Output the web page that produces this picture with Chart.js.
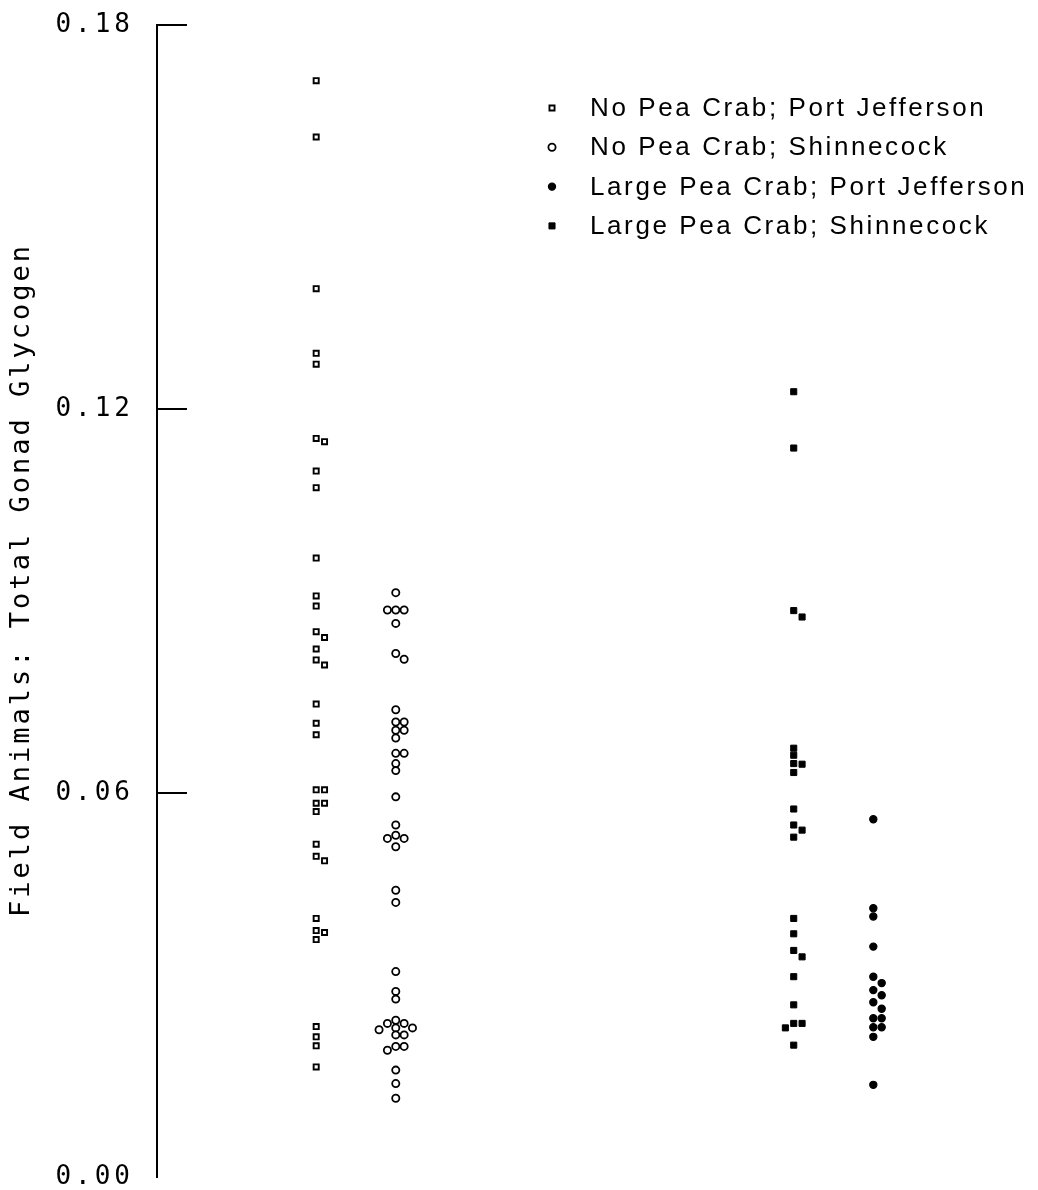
<!DOCTYPE html>
<html>
<head>
<meta charset="utf-8">
<script src="https://cdn.jsdelivr.net/npm/chart.js@4.4.1/dist/chart.umd.min.js"></script>
<style>
  html, body { margin: 0; padding: 0; background: #fff; }
  #wrap { width: 1038px; height: 1190px; }
</style>
</head>
<body>
<div id="wrap"><canvas id="c" width="1038" height="1190"></canvas></div>
<script>
// ---- Data ----
const categories = [
  'No Pea Crab; Port Jefferson',
  'No Pea Crab; Shinnecock',
  'Large Pea Crab; Port Jefferson',
  'Large Pea Crab; Shinnecock'
];
// group positions on the (hidden) x axis
const groupX = [2, 3, 9, 8];

const noCrabPortJefferson = [0.1713, 0.1625, 0.1388, 0.1287, 0.1270, 0.1154, 0.1149, 0.1103, 0.1077,
  0.0967, 0.0908, 0.0892, 0.0852, 0.0843, 0.0825, 0.0808, 0.0800, 0.0739, 0.0709, 0.0691,
  0.0605, 0.0605, 0.0584, 0.0584, 0.0571, 0.0520, 0.0501, 0.0494, 0.0404, 0.0385, 0.0382,
  0.0371, 0.0235, 0.0219, 0.0205, 0.0172];
const noCrabShinnecock = [0.0913, 0.0886, 0.0886, 0.0886, 0.0865, 0.0818, 0.0809, 0.0730, 0.0711,
  0.0711, 0.0698, 0.0698, 0.0686, 0.0662, 0.0662, 0.0646, 0.0635, 0.0594, 0.0550, 0.0534,
  0.0529, 0.0529, 0.0516, 0.0448, 0.0429, 0.0321, 0.0290, 0.0278, 0.0245, 0.0240, 0.0240,
  0.0233, 0.0233, 0.0230, 0.0222, 0.0222, 0.0204, 0.0204, 0.0198, 0.0167, 0.0146, 0.0123];
const largeCrabPortJefferson = [0.0559, 0.0420, 0.0407, 0.0360, 0.0313, 0.0303, 0.0292, 0.0284,
  0.0273, 0.0263, 0.0248, 0.0248, 0.0234, 0.0234, 0.0219, 0.0144];
const largeCrabShinnecock = [0.1227, 0.1139, 0.0885, 0.0875, 0.0670, 0.0659, 0.0646, 0.0645, 0.0632,
  0.0575, 0.0550, 0.0542, 0.0531, 0.0404, 0.0380, 0.0354, 0.0344, 0.0313, 0.0269, 0.0240,
  0.0240, 0.0233, 0.0206];

const yTicks = [0, 0.06, 0.12, 0.18];
const yTitle = 'Field Animals: Total Gonad Glycogen';

const seriesValues = [noCrabPortJefferson, noCrabShinnecock, largeCrabPortJefferson, largeCrabShinnecock];

// ---- styles ----
const styles = [
  { pointStyle: 'rect',   radius: 3.6, fill: '#ffffff', border: 1.9 },
  { pointStyle: 'circle', radius: 3.6, fill: '#ffffff', border: 1.8 },
  { pointStyle: 'circle', radius: 3.6, fill: '#000000', border: 1.2 },
  { pointStyle: 'rect',   radius: 4.3, fill: '#000000', border: 1.0 }
];

// Dodge overlapping points sideways (like the original plot does)
const yMin = 0, yMax = 0.18;
const valuePerPx = (yMax - yMin) / 1152;
const collide = 6.8 * valuePerPx;
const dodgeStep = 0.105;
function dodge(values, gx) {
  const placed = [];
  const slots = [0, 1, -1, 2, -2, 3, -3];
  return values.map(v => {
    let slot = 0;
    for (const s of slots) {
      if (!placed.some(p => p.s === s && Math.abs(p.v - v) < collide)) { slot = s; break; }
    }
    placed.push({ v, s: slot });
    return { x: gx + slot * dodgeStep, y: v };
  });
}

const datasets = seriesValues.map((vals, i) => ({
  label: categories[i],
  data: dodge(vals, groupX[i]),
  pointStyle: styles[i].pointStyle,
  pointRadius: styles[i].radius,
  pointHoverRadius: styles[i].radius,
  pointBackgroundColor: styles[i].fill,
  pointBorderColor: '#000000',
  pointBorderWidth: styles[i].border,
  showLine: false,
  clip: false
}));

function drawMarker(ctx, st, x, y) {
  ctx.save();
  ctx.fillStyle = st.fill;
  ctx.strokeStyle = '#000';
  ctx.lineWidth = st.border;
  ctx.beginPath();
  if (st.pointStyle === 'rect') {
    const h = st.radius / Math.SQRT2;
    ctx.rect(x - h, y - h, 2 * h, 2 * h);
  } else {
    ctx.arc(x, y, st.radius, 0, Math.PI * 2);
  }
  ctx.fill();
  ctx.stroke();
  ctx.restore();
}

const decorPlugin = {
  id: 'decor',
  beforeDraw(chart) {
    chart.ctx.letterSpacing = '4px';
  },
  afterDraw(chart) {
    const ctx = chart.ctx;
    const ys = chart.scales.y;
    ctx.save();
    ctx.letterSpacing = '0px';
    // inward tick marks
    ctx.strokeStyle = '#000';
    ctx.lineWidth = 2;
    yTicks.forEach(t => {
      if (t === 0) return;
      const py = ys.getPixelForValue(t);
      ctx.beginPath();
      ctx.moveTo(ys.right - 1, py);
      ctx.lineTo(ys.right + 30, py);
      ctx.stroke();
    });
    // y axis title
    ctx.save();
    ctx.translate(22, 580);
    ctx.rotate(-Math.PI / 2);
    ctx.fillStyle = '#000';
    ctx.font = '27px "DejaVu Sans Mono"';
    ctx.letterSpacing = '3px';
    ctx.textAlign = 'center';
    ctx.textBaseline = 'middle';
    ctx.fillText(yTitle, 0, 0);
    ctx.restore();
    // legend
    const lx = 552, tx = 590, ly0 = 108, lstep = 39.3;
    ctx.font = '26px "Liberation Sans", Arial, sans-serif';
    ctx.letterSpacing = '2.6px';
    ctx.fillStyle = '#000';
    ctx.textAlign = 'left';
    ctx.textBaseline = 'middle';
    categories.forEach((c, i) => {
      const y = ly0 + i * lstep;
      drawMarker(ctx, styles[i], lx, y);
      ctx.fillText(c, tx, y + 1);
    });
    ctx.restore();
  }
};

new Chart(document.getElementById('c'), {
  type: 'scatter',
  data: { datasets },
  options: {
    responsive: false,
    animation: false,
    events: [],
    layout: { padding: { top: 25, bottom: 13, left: 0, right: 3 } },
    plugins: { legend: { display: false }, tooltip: { enabled: false } },
    scales: {
      x: { type: 'linear', display: false, min: 0, max: 11 },
      y: {
        type: 'linear',
        position: 'left',
        min: yMin,
        max: yMax,
        afterFit(scale) { scale.width = 157; scale.paddingTop = 0; scale.paddingBottom = 0; },
        afterBuildTicks(scale) { scale.ticks = yTicks.map(v => ({ value: v })); },
        grid: { display: false, drawTicks: false },
        border: { display: true, color: '#000', width: 2 },
        ticks: {
          color: '#000',
          padding: 23,
          font: { family: '"DejaVu Sans Mono", monospace', size: 26, lineHeight: 1 },
          callback: v => Number(v).toFixed(2)
        }
      }
    }
  },
  plugins: [decorPlugin]
});
</script>
</body>
</html>
